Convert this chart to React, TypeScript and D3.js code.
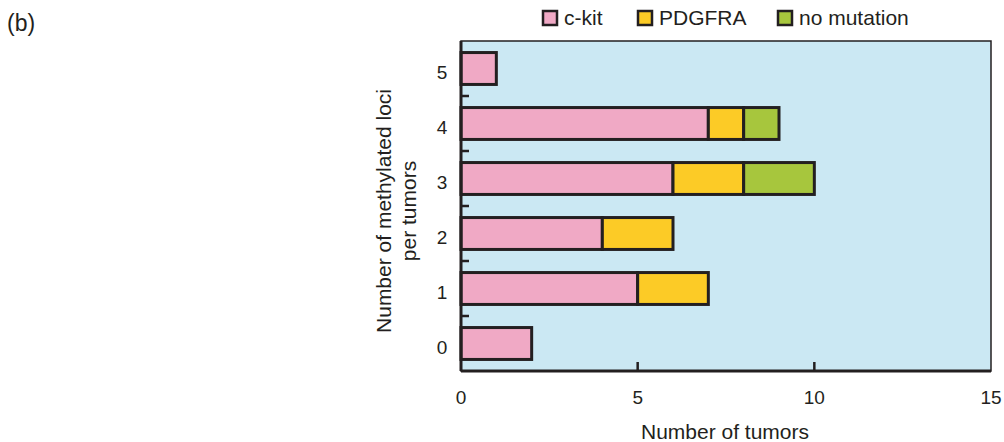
import React from "react";
import * as d3 from "d3";

const categories = ["0", "1", "2", "3", "4", "5"];
const ckit = [2, 5, 4, 6, 7, 1];
const pdgfra = [0, 2, 2, 2, 1, 0];
const noMutation = [0, 0, 0, 2, 1, 0];
const seriesNames = ["c-kit", "PDGFRA", "no mutation"];
const seriesColors = ["#F0A9C5", "#FCCB26", "#A7C63D"];
const xTicks = [0, 5, 10, 15];

export default function App() {
  const W = 1004, H = 442;
  const left = 461, right = 991, top = 41, bottom = 371;
  const x = d3.scaleLinear().domain([0, 15]).range([left, right]);
  const y = d3.scaleBand().domain([...categories].reverse()).range([top, bottom]).paddingInner(0.42).paddingOuter(0.21);
  const rows = categories.map((c, i) => ({ c, vals: [ckit[i], pdgfra[i], noMutation[i]] }));
  const bounds = d3.range(1, 6).map((i) => top + (bottom - top) / 6 * i);
  const font = "Liberation Sans, Arial, sans-serif";
  const txt = "#231f20";
  const legendX = [543, 638, 778];
  return (
    <svg width={W} height={H} style={{ position: "absolute", left: 0, top: 0 }} fontFamily={font}>
      <text x={7} y={31} fontSize={23} fill={txt}>(b)</text>
      {seriesNames.map((n, i) => (
        <g key={n}>
          <rect x={legendX[i]} y={11} width={14} height={14} fill={seriesColors[i]} stroke="#231f20" strokeWidth={2.5} />
          <text x={legendX[i] + 21} y={25} fontSize={21} fill={txt}>{n}</text>
        </g>
      ))}
      <rect x={left} y={top} width={right - left} height={bottom - top} fill="#CBE8F3" stroke="#231f20" strokeWidth={1.5} />
      {rows.map((r) => {
        let acc = 0;
        return r.vals.map((v, j) => {
          if (!v) return null;
          const x0 = acc;
          acc += v;
          return (
            <rect key={r.c + j} x={x(x0)} y={y(r.c)!} width={x(acc) - x(x0)} height={y.bandwidth()}
              fill={seriesColors[j]} stroke="#231f20" strokeWidth={3} />
          );
        });
      })}
      <line x1={left} x2={left} y1={top} y2={bottom} stroke="#231f20" strokeWidth={3} />
      <line x1={left} x2={right} y1={bottom} y2={bottom} stroke="#231f20" strokeWidth={3} />
      {bounds.map((b, i) => (
        <line key={i} x1={left} x2={left + 8} y1={b} y2={b} stroke="#231f20" strokeWidth={2.5} />
      ))}
      {xTicks.map((t) => (
        <g key={t}>
          {t > 0 && t < 15 && <line x1={x(t)} x2={x(t)} y1={bottom} y2={bottom - 9} stroke="#231f20" strokeWidth={2.5} />}
          <text x={x(t)} y={404} fontSize={19} textAnchor="middle" fill={txt}>{t}</text>
        </g>
      ))}
      {categories.map((c) => (
        <text key={c} x={442} y={y(c)! + y.bandwidth() / 2 + 10} fontSize={19} textAnchor="middle" fill={txt}>{c}</text>
      ))}
      <text x={(left + right) / 2 - 1} y={439} fontSize={21} textAnchor="middle" fill={txt}>Number of tumors</text>
      <text transform={`translate(391,211) rotate(-90)`} fontSize={21} textAnchor="middle" fill={txt}>Number of methylated loci</text>
      <text transform={`translate(416,211) rotate(-90)`} fontSize={21} textAnchor="middle" fill={txt}>per tumors</text>
    </svg>
  );
}
